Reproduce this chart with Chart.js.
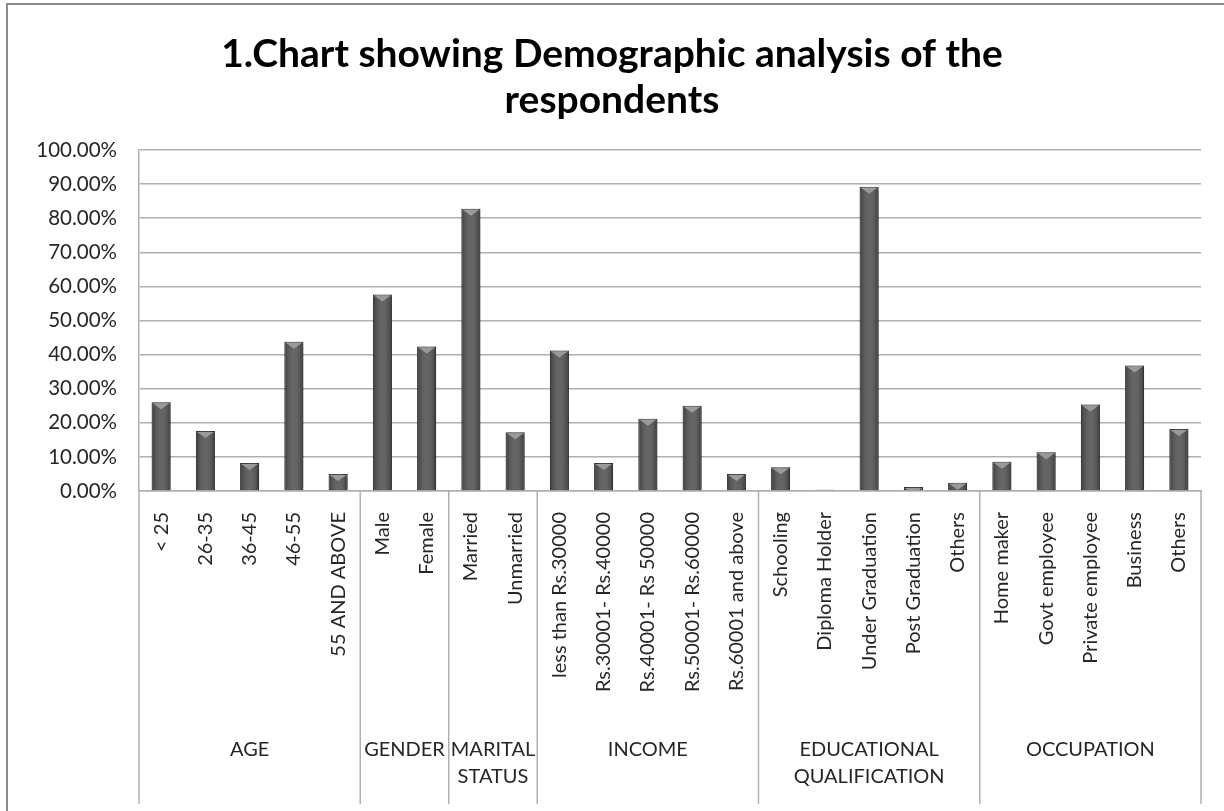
<!DOCTYPE html>
<html>
<head>
<meta charset="utf-8">
<title>Demographic analysis</title>
<script src="https://cdn.jsdelivr.net/npm/chart.js@4.4.1/dist/chart.umd.min.js"></script>
<style>
  body { margin: 0; background: #ffffff; }
  #wrap { width: 1224px; height: 811px; }
</style>
</head>
<body>
<div id="wrap"><canvas id="demoChart" width="1224" height="811"></canvas></div>
<script>
const categories = [
  "< 25", "26-35", "36-45", "46-55", "55 AND ABOVE",
  "Male", "Female",
  "Married", "Unmarried",
  "less than Rs.30000", "Rs.30001- Rs.40000", "Rs.40001- Rs 50000", "Rs.50001- Rs.60000", "Rs.60001 and above",
  "Schooling", "Diploma Holder", "Under Graduation", "Post Graduation", "Others",
  "Home maker", "Govt employee", "Private employee", "Business", "Others",
];

const percentages = [
  26.0, 17.6, 8.2, 43.8, 5.0,
  57.6, 42.4,
  82.8, 17.2,
  41.2, 8.2, 21.2, 25.0, 5.0,
  7.0, 0.4, 89.2, 1.2, 2.4,
  8.6, 11.4, 25.4, 36.8, 18.2,
];

const groupNames = [["AGE"], ["GENDER"], ["MARITAL", "STATUS"], ["INCOME"], ["EDUCATIONAL", "QUALIFICATION"], ["OCCUPATION"]];
const groupSizes = [5, 2, 2, 5, 5, 5];

const titleLines = ["1.Chart showing Demographic analysis of the", "respondents"];

Chart.defaults.font.family = "Lato, 'Open Sans', sans-serif";
Chart.defaults.color = "#262626";

// frame, group separators and group names below the axis labels
const groupAxisPlugin = {
  id: "groupAxis",
  beforeDraw(chart) {
    const ctx = chart.ctx;
    ctx.save();
    ctx.strokeStyle = "#8c8c8c";
    ctx.lineWidth = 2;
    ctx.beginPath();
    ctx.moveTo(7, chart.height + 5);
    ctx.lineTo(7, 4);
    ctx.lineTo(chart.width + 5, 4);
    ctx.stroke();
    ctx.restore();
  },
  beforeDatasetsDraw(chart) {
    const ctx = chart.ctx;
    ctx.save();
    ctx.shadowColor = "rgba(0,0,0,0.3)";
    ctx.shadowBlur = 4;
    ctx.shadowOffsetX = 2;
    ctx.shadowOffsetY = 1;
  },
  afterDatasetsDraw(chart) {
    const ctx = chart.ctx;
    ctx.restore();

    // rounded look of the bars
    const bars = chart.getDatasetMeta(0).data;
    bars.forEach((bar) => {
      const left = bar.x - bar.width / 2;
      const right = bar.x + bar.width / 2;
      const top = Math.min(bar.y, bar.base);
      const h = Math.abs(bar.base - bar.y);
      ctx.save();
      ctx.beginPath();
      ctx.rect(left, top, bar.width, h);
      ctx.clip();
      const g = ctx.createLinearGradient(left, 0, right, 0);
      g.addColorStop(0, "rgba(0,0,0,0.25)");
      g.addColorStop(0.45, "rgba(255,255,255,0.12)");
      g.addColorStop(0.55, "rgba(255,255,255,0.12)");
      g.addColorStop(1, "rgba(0,0,0,0.3)");
      ctx.fillStyle = g;
      ctx.fillRect(left, top, bar.width, h);
      ctx.fillStyle = "#9a9a9a";
      ctx.beginPath();
      ctx.moveTo(left + 1, top + 1);
      ctx.lineTo(right - 1, top + 1);
      ctx.lineTo(right - 4, top + 3);
      ctx.lineTo(bar.x, top + 7);
      ctx.lineTo(left + 4, top + 3);
      ctx.closePath();
      ctx.fill();
      ctx.restore();
    });
  },
  afterDraw(chart) {
    const ctx = chart.ctx;
    const x = chart.scales.x;
    const area = chart.chartArea;
    const step = x.getPixelForValue(1) - x.getPixelForValue(0);
    const bottom = 804;

    ctx.save();
    ctx.strokeStyle = "#b0b0b0";
    ctx.lineWidth = 1.5;
    ctx.font = "20px Lato, 'Open Sans', sans-serif";
    ctx.fillStyle = "#262626";
    ctx.textAlign = "center";
    ctx.textBaseline = "middle";

    let start = 0;
    const edges = [x.getPixelForValue(0) - step / 2];
    groupSizes.forEach((size) => {
      start += size;
      edges.push(x.getPixelForValue(start - 1) + step / 2);
    });
    edges.forEach((px) => {
      ctx.beginPath();
      ctx.moveTo(px, area.bottom);
      ctx.lineTo(px, bottom);
      ctx.stroke();
    });
    groupNames.forEach((lines, i) => {
      const cx = (edges[i] + edges[i + 1]) / 2;
      lines.forEach((line, j) => {
        ctx.fillText(line, cx, 750 + j * 27);
      });
    });
    ctx.restore();
  },
};

const ctx = document.getElementById("demoChart");

new Chart(ctx, {
  type: "bar",
  data: {
    labels: categories,
    datasets: [
      {
        label: "Respondents",
        data: percentages,
        backgroundColor: "#505050",
        borderColor: "#333333",
        borderWidth: 1,
        barPercentage: 0.43,
        categoryPercentage: 1,
      },
    ],
  },
  options: {
    responsive: false,
    devicePixelRatio: 1,
    animation: false,
    layout: {
      padding: { top: 4, left: 23, right: 23, bottom: 0 },
    },
    plugins: {
      legend: { display: false },
      tooltip: { enabled: false },
      title: {
        display: true,
        text: titleLines,
        color: "#000000",
        font: { size: 39, weight: "bold", lineHeight: 1.18 },
        padding: { top: 27, bottom: 27 },
      },
    },
    scales: {
      x: {
        grid: { display: false },
        border: { display: true, color: "#b0b0b0", width: 1.5 },
        ticks: {
          autoSkip: false,
          minRotation: 90,
          maxRotation: 90,
          padding: 13,
          font: { size: 20 },
          color: "#262626",
        },
        afterFit(scale) {
          scale.height = 320;
        },
      },
      y: {
        min: 0,
        max: 100,
        grid: { color: "#b0b0b0", lineWidth: 1.5, drawTicks: false },
        border: { display: true, color: "#b0b0b0", width: 1.5 },
        ticks: {
          stepSize: 10,
          padding: 22,
          font: { size: 20.5 },
          color: "#262626",
          callback: (value) => value.toFixed(2) + "%",
        },
        afterFit(scale) {
          scale.width = 116;
        },
      },
    },
  },
  plugins: [groupAxisPlugin],
});
</script>
</body>
</html>
